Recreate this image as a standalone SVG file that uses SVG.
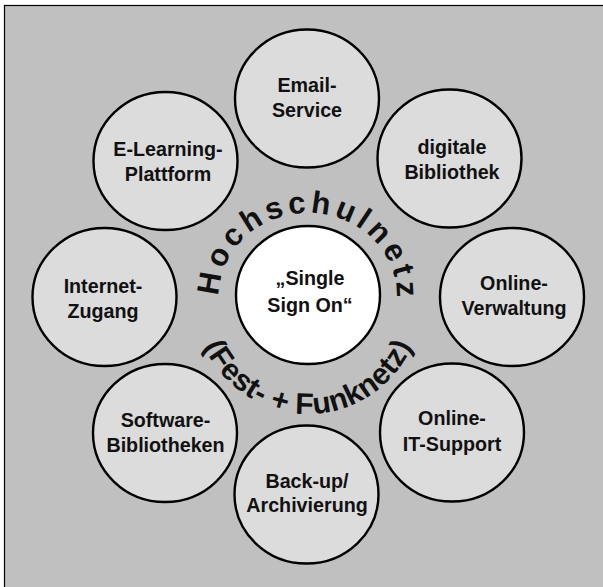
<svg xmlns="http://www.w3.org/2000/svg" width="603" height="587" viewBox="0 0 603 587">
<style>
.node{fill:#dcdcdc;stroke:#000;stroke-width:2.4}
.center{fill:#fff;stroke:#000;stroke-width:2.4}
.lbl{font-family:"Liberation Sans",Arial,sans-serif;font-weight:bold;font-size:19.7px;fill:#111;text-anchor:middle}
.arc{font-family:"Liberation Sans",Arial,sans-serif;font-weight:bold;fill:#111}
</style>
<defs>
<path id="topArc" d="M219,296 A89,83 0 0 1 397,296"/>
<path id="botArc" d="M193,296 A115,118 0 0 0 423,296"/>
</defs>
<rect x="4.5" y="5.5" width="620" height="600" fill="#c0c0c0" stroke="#000" stroke-width="1.2"/>
<g id="connectors"></g>
<g id="email"><ellipse class="node" cx="307" cy="98.5" rx="72" ry="69"/><text class="lbl" x="307" y="92">Email-</text><text class="lbl" x="307" y="117">Service</text></g>
<g id="elearning"><ellipse class="node" cx="165.5" cy="161" rx="72" ry="69"/><text class="lbl" x="168" y="156">E-Learning-</text><text class="lbl" x="168" y="181">Plattform</text></g>
<g id="bibliothek"><ellipse class="node" cx="449.5" cy="158.5" rx="72" ry="69"/><text class="lbl" x="452" y="154">digitale</text><text class="lbl" x="452" y="179">Bibliothek</text></g>
<g id="internet"><ellipse class="node" cx="104.5" cy="297" rx="72" ry="69"/><text class="lbl" x="103" y="293">Internet-</text><text class="lbl" x="103" y="318">Zugang</text></g>
<g id="verwaltung"><ellipse class="node" cx="512" cy="297" rx="72" ry="69"/><text class="lbl" x="514" y="290">Online-</text><text class="lbl" x="514" y="315">Verwaltung</text></g>
<g id="software"><ellipse class="node" cx="165" cy="433" rx="72" ry="69"/><text class="lbl" x="165.5" y="427">Software-</text><text class="lbl" x="165.5" y="452">Bibliotheken</text></g>
<g id="itsupport"><ellipse class="node" cx="452" cy="432.5" rx="72" ry="69"/><text class="lbl" x="452" y="425">Online-</text><text class="lbl" x="452" y="451">IT-Support</text></g>
<g id="backup"><ellipse class="node" cx="306.5" cy="494.5" rx="72" ry="69"/><text class="lbl" x="307" y="488">Back-up/</text><text class="lbl" x="307" y="512">Archivierung</text></g>
<g id="sso"><ellipse class="center" cx="308" cy="295" rx="72" ry="69"/><text class="lbl" x="310" y="285">„Single</text><text class="lbl" x="310" y="312">Sign On“</text></g>
<g id="netz">
<text class="arc" font-size="31" letter-spacing="4.2"><textPath href="#topArc" startOffset="0">Hochschulnetz</textPath></text>
<text class="arc" font-size="30" letter-spacing="0.3" text-anchor="middle"><textPath href="#botArc" startOffset="50%">(Fest- + Funknetz)</textPath></text>
</g>
</svg>
